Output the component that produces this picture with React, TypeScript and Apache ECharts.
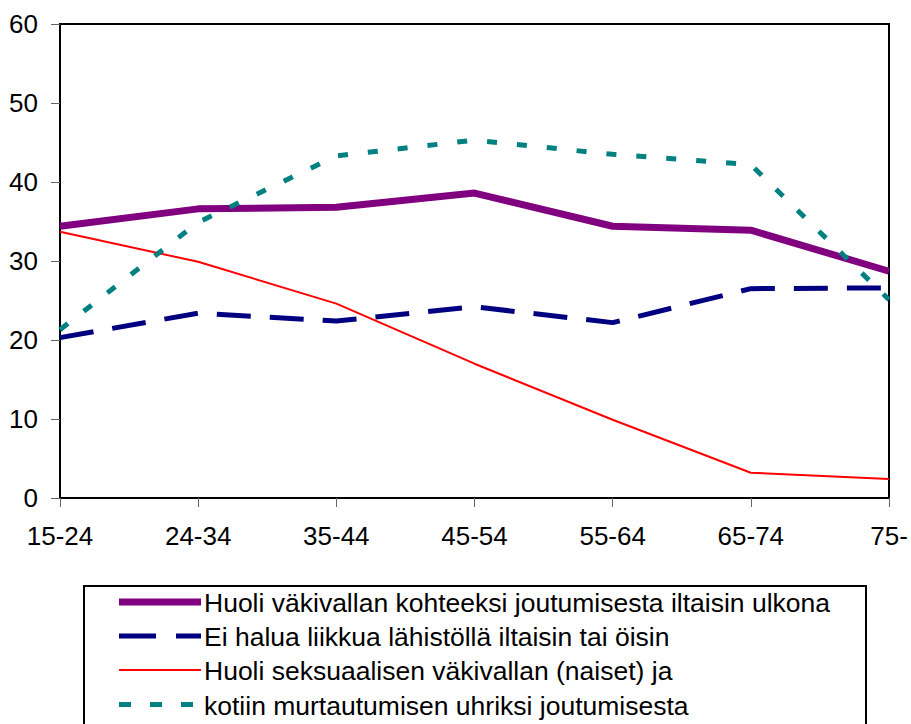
import React, { useEffect, useRef } from "react";
import * as echarts from "echarts";

const categories = ["15-24", "24-34", "35-44", "45-54", "55-64", "65-74", "75-"];
const seriesNames = [
  "Huoli väkivallan kohteeksi joutumisesta iltaisin ulkona",
  "Ei halua liikkua lähistöllä iltaisin tai öisin",
  "Huoli seksuaalisen väkivallan (naiset) ja",
  "kotiin murtautumisen uhriksi joutumisesta",
];
const huoliValues = [34.4, 36.6, 36.8, 38.6, 34.4, 33.9, 28.7];
const eiHaluaValues = [20.3, 23.4, 22.4, 24.2, 22.2, 26.5, 26.6];
const seksuaalinenValues = [33.7, 29.9, 24.6, 17.0, 9.9, 3.2, 2.4];
const murtoValues = [21.3, 34.9, 43.3, 45.3, 43.5, 42.2, 25.1];
const yTicks = { min: 0, max: 60, interval: 10 };

const FONT = "'Liberation Sans', Arial, sans-serif";
const FS = 26;
const LEGEND_FS = 26.5;

const styles = [
  { color: "#800080", width: 7, dash: null as number[] | null, legendDash: null as number[] | null },
  { color: "#000080", width: 5, dash: [34, 19], legendDash: [37, 20] },
  { color: "#FF0000", width: 2, dash: null, legendDash: null },
  { color: "#008080", width: 5, dash: [10, 20], legendDash: [12, 19] },
];

export default function App() {
  const ref = useRef<HTMLDivElement>(null);
  useEffect(() => {
    if (!ref.current) return;
    const chart = echarts.init(ref.current, null, { renderer: "svg" });
    const data = [huoliValues, eiHaluaValues, seksuaalinenValues, murtoValues];
    const legendRows = [603, 637, 671, 705.5];
    const graphics: any[] = [
      {
        type: "rect",
        shape: { x: 84, y: 586, width: 782, height: 160 },
        style: { fill: "#fff", stroke: "#000", lineWidth: 2 },
        z: 10,
      },
    ];
    seriesNames.forEach((name, i) => {
      const st = styles[i];
      graphics.push({
        type: "line",
        shape: { x1: 119, y1: legendRows[i] - 1, x2: 201, y2: legendRows[i] - 1 },
        style: {
          stroke: st.color,
          lineWidth: st.width,
          lineDash: st.legendDash || undefined,
        },
        z: 11,
      });
      graphics.push({
        type: "text",
        x: 204,
        y: legendRows[i],
        style: {
          text: name,
          fill: "#000",
          fontSize: LEGEND_FS,
          fontFamily: FONT,
          verticalAlign: "middle",
          textAlign: "left",
        },
        z: 11,
      });
    });

    chart.setOption({
      animation: false,
      backgroundColor: "#fff",
      grid: {
        left: 60,
        top: 24,
        right: 22,
        bottom: 226,
        show: true,
        borderColor: "#000",
        borderWidth: 2,
      },
      xAxis: {
        type: "category",
        data: categories,
        boundaryGap: false,
        axisLine: { lineStyle: { color: "#000", width: 2 } },
        axisTick: { show: true, length: 9, lineStyle: { color: "#666", width: 1 } },
        axisLabel: { color: "#000", fontSize: FS, fontFamily: FONT, margin: 25 },
        splitLine: { show: false },
      },
      yAxis: {
        type: "value",
        min: yTicks.min,
        max: yTicks.max,
        interval: yTicks.interval,
        axisLine: { show: true, lineStyle: { color: "#000", width: 2 } },
        axisTick: { show: true, length: 9, lineStyle: { color: "#666", width: 1 } },
        axisLabel: { color: "#000", fontSize: FS, fontFamily: FONT, margin: 22 },
        splitLine: { show: false },
      },
      series: seriesNames.map((name, i) => ({
        name,
        type: "line",
        data: data[i],
        symbol: "none",
        lineStyle: {
          color: styles[i].color,
          width: styles[i].width,
          type: styles[i].dash || "solid",
        },
        itemStyle: { color: styles[i].color },
        z: i === 0 ? 2 : 3,
      })),
      graphic: graphics,
    });
    return () => chart.dispose();
  }, []);
  return (
    <div
      ref={ref}
      style={{ position: "fixed", left: 0, top: 0, width: 911, height: 724 }}
    />
  );
}
